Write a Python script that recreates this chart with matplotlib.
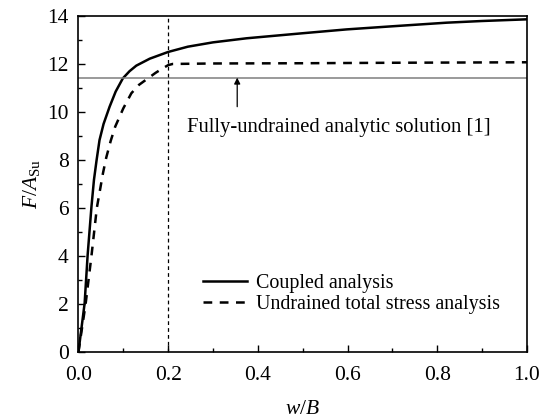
import matplotlib
matplotlib.use('Agg')
import matplotlib.pyplot as plt
from matplotlib.ticker import MultipleLocator

plt.rcParams['font.family'] = ['Liberation Serif', 'DejaVu Serif']
plt.rcParams['mathtext.fontset'] = 'custom'
plt.rcParams['mathtext.rm'] = 'Liberation Serif'
plt.rcParams['mathtext.it'] = 'Liberation Serif:italic'

# coupled analysis curve
wb_coupled = [0.0, 0.0138, 0.0205, 0.029, 0.0346, 0.0405, 0.047, 0.056, 0.0695, 0.083, 0.099,
              0.114, 0.129, 0.159, 0.2, 0.244, 0.3, 0.375, 0.5, 0.598, 0.7, 0.821, 0.9, 1.0]
f_coupled = [0.0, 2.03, 4.04, 6.05, 7.17, 8.0, 8.83, 9.5, 10.22, 10.85, 11.4,
             11.7, 11.93, 12.22, 12.5, 12.72, 12.9, 13.07, 13.28, 13.44, 13.57, 13.72, 13.79, 13.86]

# undrained total stress analysis curve
wb_undrained = [0.0, 0.016, 0.029, 0.041, 0.0546, 0.062, 0.072, 0.082, 0.1, 0.118, 0.135,
                0.155, 0.172, 0.188, 0.2, 0.21, 0.3, 0.5, 0.7, 1.0]
f_undrained = [0.0, 2.0, 4.0, 6.0, 7.44, 8.1, 8.8, 9.39, 10.15, 10.78, 11.13,
               11.4, 11.63, 11.82, 11.95, 12.0, 12.02, 12.03, 12.05, 12.07]

analytic = 11.43
wb_marker = 0.2

fig = plt.figure(figsize=(5.41, 4.2), dpi=100)
ax = fig.add_axes([0.145, 0.162, 0.829, 0.8])

ax.plot(wb_coupled, f_coupled, color='black', lw=1.8, label='Coupled analysis')
ax.plot(wb_undrained, f_undrained, color='black', lw=1.8, ls=(0, (3.5, 3)),
        label='Undrained total stress analysis')
ax.axhline(analytic, color='#7f7f7f', lw=1.1)
ax.axvline(wb_marker, color='black', lw=0.9, ls=(0, (3, 2.5)))

# arrow pointing at the analytic solution line
ax.annotate('', xy=(0.354, analytic), xytext=(0.354, 10.22),
            arrowprops=dict(arrowstyle='-|>', color='black', lw=0.9, mutation_scale=9, shrinkA=0, shrinkB=0))
ax.text(0.242, 9.18, 'Fully-undrained analytic solution [1]', fontsize=14.9, va='baseline', ha='left')

ax.set_xlim(0, 1.0)
ax.set_ylim(0, 14)
ax.xaxis.set_major_locator(MultipleLocator(0.2))
ax.xaxis.set_minor_locator(MultipleLocator(0.1))
ax.yaxis.set_major_locator(MultipleLocator(2))
ax.yaxis.set_minor_locator(MultipleLocator(1))
ax.xaxis.set_major_formatter(plt.FormatStrFormatter('%.1f'))
ax.tick_params(which='both', direction='in', top=False, right=False, labelsize=15.5, width=1)
ax.tick_params(which='major', length=5)
ax.tick_params(which='minor', length=3)
ax.tick_params(axis='x', which='major', pad=10)
ax.tick_params(axis='y', which='major', pad=7)
for s in ax.spines.values():
    s.set_linewidth(1.2)

ax.set_xlabel(r'$w/B$', fontsize=15.5, labelpad=11)
ax.set_ylabel(r'$F/A_{\mathrm{Su}}$', fontsize=15.5, labelpad=4)

ax.legend(loc='center left', bbox_to_anchor=(0.278, 0.173), frameon=False, fontsize=14.4,
          handlelength=2.2, handletextpad=0.45, labelspacing=0.08, borderpad=0, borderaxespad=0)

fig.savefig('out.png', dpi=100)
